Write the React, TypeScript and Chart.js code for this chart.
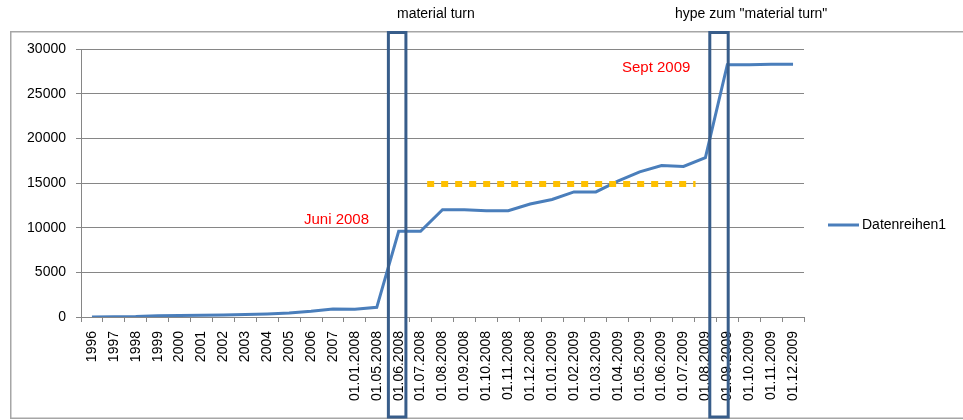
import React, { useEffect, useRef } from "react";
import { Chart, registerables } from "chart.js";

Chart.register(...registerables);

const categories: string[] = [
  "1996", "1997", "1998", "1999", "2000", "2001", "2002", "2003", "2004", "2005", "2006", "2007",
  "01.01.2008", "01.05.2008", "01.06.2008", "01.07.2008", "01.08.2008", "01.09.2008", "01.10.2008",
  "01.11.2008", "01.12.2008", "01.01.2009", "01.02.2009", "01.03.2009", "01.04.2009", "01.05.2009",
  "01.06.2009", "01.07.2009", "01.08.2009", "01.09.2009", "01.10.2009", "01.11.2009", "01.12.2009",
];

const series1: number[] = [
  0, 30, 60, 150, 170, 190, 220, 270, 340, 450, 640, 900,
  870, 1080, 9600, 9600, 12000, 12000, 11900,
  11900, 12650, 13150, 14000, 14000, 15200, 16250,
  16950, 16850, 17850, 28250, 28250, 28300, 28300,
];

const seriesName = "Datenreihen1";
const yTicks: number[] = [0, 5000, 10000, 15000, 20000, 25000, 30000];

// dashed reference line (category index positions, value)
const dashFrom = 15.3;
const dashTo = 27.55;
const dashValue = 14900;

// highlight boxes (category index positions of their left and right edges)
const boxLeft: number[] = [13.53, 28.2];
const boxRight: number[] = [14.33, 29.04];
const boxTitles: string[] = ["material turn", 'hype zum "material turn"'];
const redLabels: string[] = ["Juni 2008", "Sept 2009"];

const FONT = "'Liberation Sans', Arial, sans-serif";

const overlay = {
  id: "overlay",
  beforeDraw(chart: any) {
    const ctx = chart.ctx;
    ctx.save();
    ctx.fillStyle = "#fff";
    ctx.fillRect(0, 0, chart.width, chart.height);
    ctx.strokeStyle = "#a6a6a6";
    ctx.lineWidth = 1.5;
    ctx.beginPath();
    ctx.moveTo(chart.width + 5, 31.75);
    ctx.lineTo(10.75, 31.75);
    ctx.lineTo(10.75, 418.25);
    ctx.lineTo(chart.width + 5, 418.25);
    ctx.stroke();
    ctx.restore();
  },
  afterDatasetsDraw(chart: any) {
    const ctx = chart.ctx;
    const x = chart.scales.x;
    const y = chart.scales.y;
    ctx.save();
    // dashed gold line
    ctx.strokeStyle = "#FFC000";
    ctx.lineWidth = 6;
    ctx.setLineDash([7, 7]);
    ctx.beginPath();
    const dy = Math.round(y.getPixelForValue(dashValue));
    ctx.moveTo(x.getPixelForValue(dashFrom), dy);
    ctx.lineTo(x.getPixelForValue(dashTo), dy);
    ctx.stroke();
    ctx.setLineDash([]);

    // boxes
    ctx.strokeStyle = "#385D8A";
    ctx.lineWidth = 3;
    for (let i = 0; i < boxLeft.length; i++) {
      const l = x.getPixelForValue(boxLeft[i]);
      const r = x.getPixelForValue(boxRight[i]);
      ctx.strokeRect(l, 32.5, r - l, 384.5);
    }

    // titles
    ctx.fillStyle = "#000";
    ctx.font = `14px ${FONT}`;
    ctx.textBaseline = "middle";
    ctx.textAlign = "left";
    ctx.fillText(boxTitles[0], 397, 14);
    ctx.fillText(boxTitles[1], 675, 14);

    // red labels
    ctx.fillStyle = "#FF0000";
    ctx.font = `15px ${FONT}`;
    ctx.fillText(redLabels[0], 304, 220);
    ctx.fillText(redLabels[1], 622, 68);

    // legend
    const ds = chart.data.datasets[0];
    ctx.strokeStyle = ds.borderColor;
    ctx.lineWidth = 3;
    ctx.beginPath();
    ctx.moveTo(828, 225);
    ctx.lineTo(859, 225);
    ctx.stroke();
    ctx.fillStyle = "#000";
    ctx.font = `14px ${FONT}`;
    ctx.fillText(ds.label, 862, 225);
    ctx.restore();
  },
};

export default function App() {
  const ref = useRef<HTMLCanvasElement | null>(null);
  useEffect(() => {
    if (!ref.current) return;
    const chart = new Chart(ref.current, {
      type: "line",
      data: {
        labels: categories,
        datasets: [
          {
            label: seriesName,
            data: series1,
            borderColor: "#4A7EBB",
            backgroundColor: "#4A7EBB",
            borderWidth: 3,
            pointRadius: 0,
            tension: 0,
            fill: false,
          },
        ],
      },
      options: {
        animation: false,
        responsive: false,
        layout: { padding: { left: 0, top: 49, right: 159, bottom: 0 } },
        plugins: { legend: { display: false }, tooltip: { enabled: false } },
        scales: {
          x: {
            type: "category",
            offset: true,
            grid: {
              display: true,
              drawOnChartArea: false,
              drawTicks: true,
              tickLength: 5,
              offset: true,
              color: "#868686",
            },
            border: { display: true, color: "#868686", width: 1 },
            ticks: {
              autoSkip: false,
              minRotation: 90,
              maxRotation: 90,
              padding: 9,
              color: "#000",
              font: { family: FONT, size: 14 },
            },
            afterFit(scale: any) {
              scale.height = 103;
            },
          },
          y: {
            min: 0,
            max: 30000,
            afterBuildTicks(scale: any) {
              scale.ticks = yTicks.map((v) => ({ value: v }));
            },
            grid: { color: "#868686", tickLength: 5, drawTicks: true },
            border: { display: true, color: "#868686", width: 1 },
            ticks: {
              padding: 10,
              color: "#000",
              font: { family: FONT, size: 14 },
              callback: (v: any) => String(v),
            },
            afterFit(scale: any) {
              scale.width = 81;
            },
          },
        },
      },
      plugins: [overlay],
    });
    return () => chart.destroy();
  }, []);
  return (
    <div style={{ position: "fixed", left: 0, top: 0, width: 963, height: 420, background: "#fff" }}>
      <canvas ref={ref} width={963} height={420} style={{ width: 963, height: 420, display: "block" }} />
    </div>
  );
}
